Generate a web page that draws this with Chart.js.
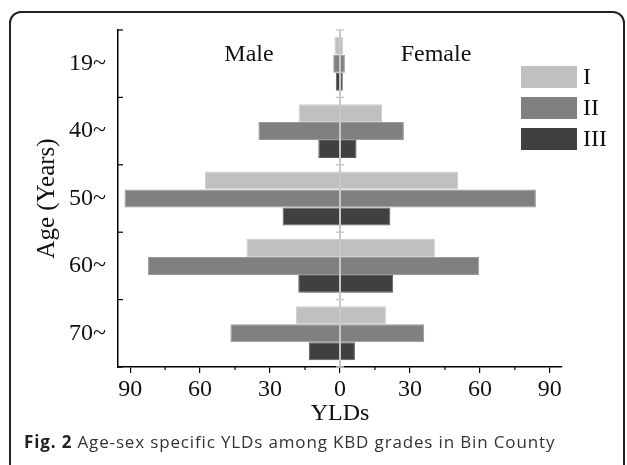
<!DOCTYPE html>
<html>
<head>
<meta charset="utf-8">
<script src="https://cdn.jsdelivr.net/npm/chart.js@4"></script>
<style>
  body { margin: 0; background: #fff; }
  #wrap { position: relative; width: 627px; height: 465px; overflow: hidden; }
  #frame { position: absolute; left: 9px; top: 11px; width: 612px; height: 520px;
           border: 2px solid #222; border-radius: 12px; }
  #caption { position: absolute; left: 24px; top: 430px; font-family: 'Open Sans', sans-serif;
             font-size: 17px; letter-spacing: 0.85px; color: #333; white-space: nowrap; }
  #caption b { color: #222; }
  canvas { position: absolute; left: 0; top: 0; }
</style>
</head>
<body>
<div id="wrap">
  <div id="frame"></div>
  <canvas id="pyramid" width="627" height="465"></canvas>
  <div id="caption"><b>Fig. 2</b> Age-sex specific YLDs among KBD grades in Bin County</div>
</div>
<script>
// data
const ageGroups = ['19~', '40~', '50~', '60~', '70~'];
const gradeLabels = ['I', 'II', 'III'];
const maleI = [2.4, 17.7, 57.9, 40.1, 18.9];
const maleII = [2.9, 35, 92.4, 82.4, 47];
const maleIII = [1.8, 9.3, 24.6, 17.9, 13.4];
const femaleI = [1.4, 18, 50.7, 40.7, 19.7];
const femaleII = [2.1, 27.4, 84, 59.7, 36.1];
const femaleIII = [1.2, 7.1, 21.6, 22.8, 6.4];
const xTicks = [-90, -60, -30, 0, 30, 60, 90];
const xMinorTicks = [-75, -45, -15, 15, 45, 75];

const serif = 'Liberation Serif';
const fills = ['#c0c0c0', '#808080', '#404040'];
const edges = ['#d0d0d0', '#999999', '#5c5c5c'];

// floating bars: male to the left of zero, female to the right
const span = (male, female) => ageGroups.map((_, i) => [-male[i], female[i]]);
const series = [span(maleI, femaleI), span(maleII, femaleII), span(maleIII, femaleIII)];

const extras = {
    id: 'extras',
    afterDatasetsDraw(chart) {
        const ctx = chart.ctx;
        const x = chart.scales.x, y = chart.scales.y;
        const area = chart.chartArea;
        const band = (y.getPixelForValue(1) - y.getPixelForValue(0));
        const bounds = [];
        for (let i = 0; i <= ageGroups.length; i++) bounds.push(y.getPixelForValue(0) - band / 2 + i * band);

        ctx.save();
        // zero line with small marks
        const x0 = x.getPixelForValue(0);
        ctx.strokeStyle = '#c8c8c8';
        ctx.lineWidth = 2;
        ctx.beginPath();
        ctx.moveTo(x0, area.top);
        ctx.lineTo(x0, area.bottom);
        ctx.stroke();
        ctx.lineWidth = 1.5;
        bounds.forEach(b => {
            ctx.beginPath();
            ctx.moveTo(x0 - 4, b);
            ctx.lineTo(x0 + 4, b);
            ctx.stroke();
        });

        // inward ticks on the age axis
        ctx.strokeStyle = '#000';
        ctx.lineWidth = 1.2;
        bounds.forEach(b => {
            ctx.beginPath();
            ctx.moveTo(area.left, b);
            ctx.lineTo(area.left + 5, b);
            ctx.stroke();
        });

        // minor ticks on the YLDs axis
        xMinorTicks.forEach(v => {
            const px = x.getPixelForValue(v);
            ctx.beginPath();
            ctx.moveTo(px, area.bottom);
            ctx.lineTo(px, area.bottom + 3);
            ctx.stroke();
        });

        // side labels
        ctx.fillStyle = '#111';
        ctx.font = '24px "' + serif + '"';
        ctx.textAlign = 'center';
        ctx.textBaseline = 'middle';
        ctx.fillText('Male', 249, 55);
        ctx.fillText('Female', 436, 55);

        // legend
        ctx.textAlign = 'left';
        chart.data.datasets.forEach((ds, i) => {
            const top = 66 + i * 31;
            ctx.fillStyle = ds.backgroundColor;
            ctx.fillRect(521, top, 56, 22);
            ctx.fillStyle = '#111';
            ctx.fillText(ds.label, 583, top + 12);
        });
        ctx.restore();
    }
};

new Chart(document.getElementById('pyramid'), {
    type: 'bar',
    data: {
        labels: ageGroups,
        datasets: gradeLabels.map((g, i) => ({
            label: g,
            data: series[i],
            backgroundColor: fills[i],
            borderColor: edges[i],
            borderWidth: 1,
            borderSkipped: false
        }))
    },
    options: {
        indexAxis: 'y',
        responsive: false,
        animation: false,
        layout: { padding: { left: 0, top: 30, right: 65, bottom: 0 } },
        datasets: { bar: { categoryPercentage: 0.8, barPercentage: 1 } },
        plugins: {
            legend: { display: false },
            tooltip: { enabled: false }
        },
        scales: {
            x: {
                min: -95.2,
                max: 95.2,
                afterBuildTicks: s => { s.ticks = xTicks.map(v => ({ value: v })); },
                afterFit: s => { s.height = 98; },
                grid: { drawOnChartArea: false, drawTicks: true, tickLength: 6, color: '#000', lineWidth: 1.2 },
                border: { display: true, color: '#000', width: 1.5 },
                ticks: {
                    padding: 2,
                    color: '#111',
                    font: { family: serif, size: 24 },
                    callback: v => Math.abs(v)
                },
                title: {
                    display: true,
                    text: 'YLDs',
                    color: '#111',
                    font: { family: serif, size: 24 },
                    padding: { top: 0, bottom: 37 }
                }
            },
            y: {
                afterFit: s => { s.width = 118; },
                grid: { drawOnChartArea: false, drawTicks: false },
                border: { display: true, color: '#000', width: 1.5 },
                ticks: {
                    padding: 12,
                    color: '#111',
                    font: { family: serif, size: 24 }
                },
                title: {
                    display: true,
                    text: 'Age (Years)',
                    color: '#111',
                    font: { family: serif, size: 25 },
                    padding: { top: 32, bottom: 0 }
                }
            }
        }
    },
    plugins: [extras]
});
</script>
</body>
</html>
